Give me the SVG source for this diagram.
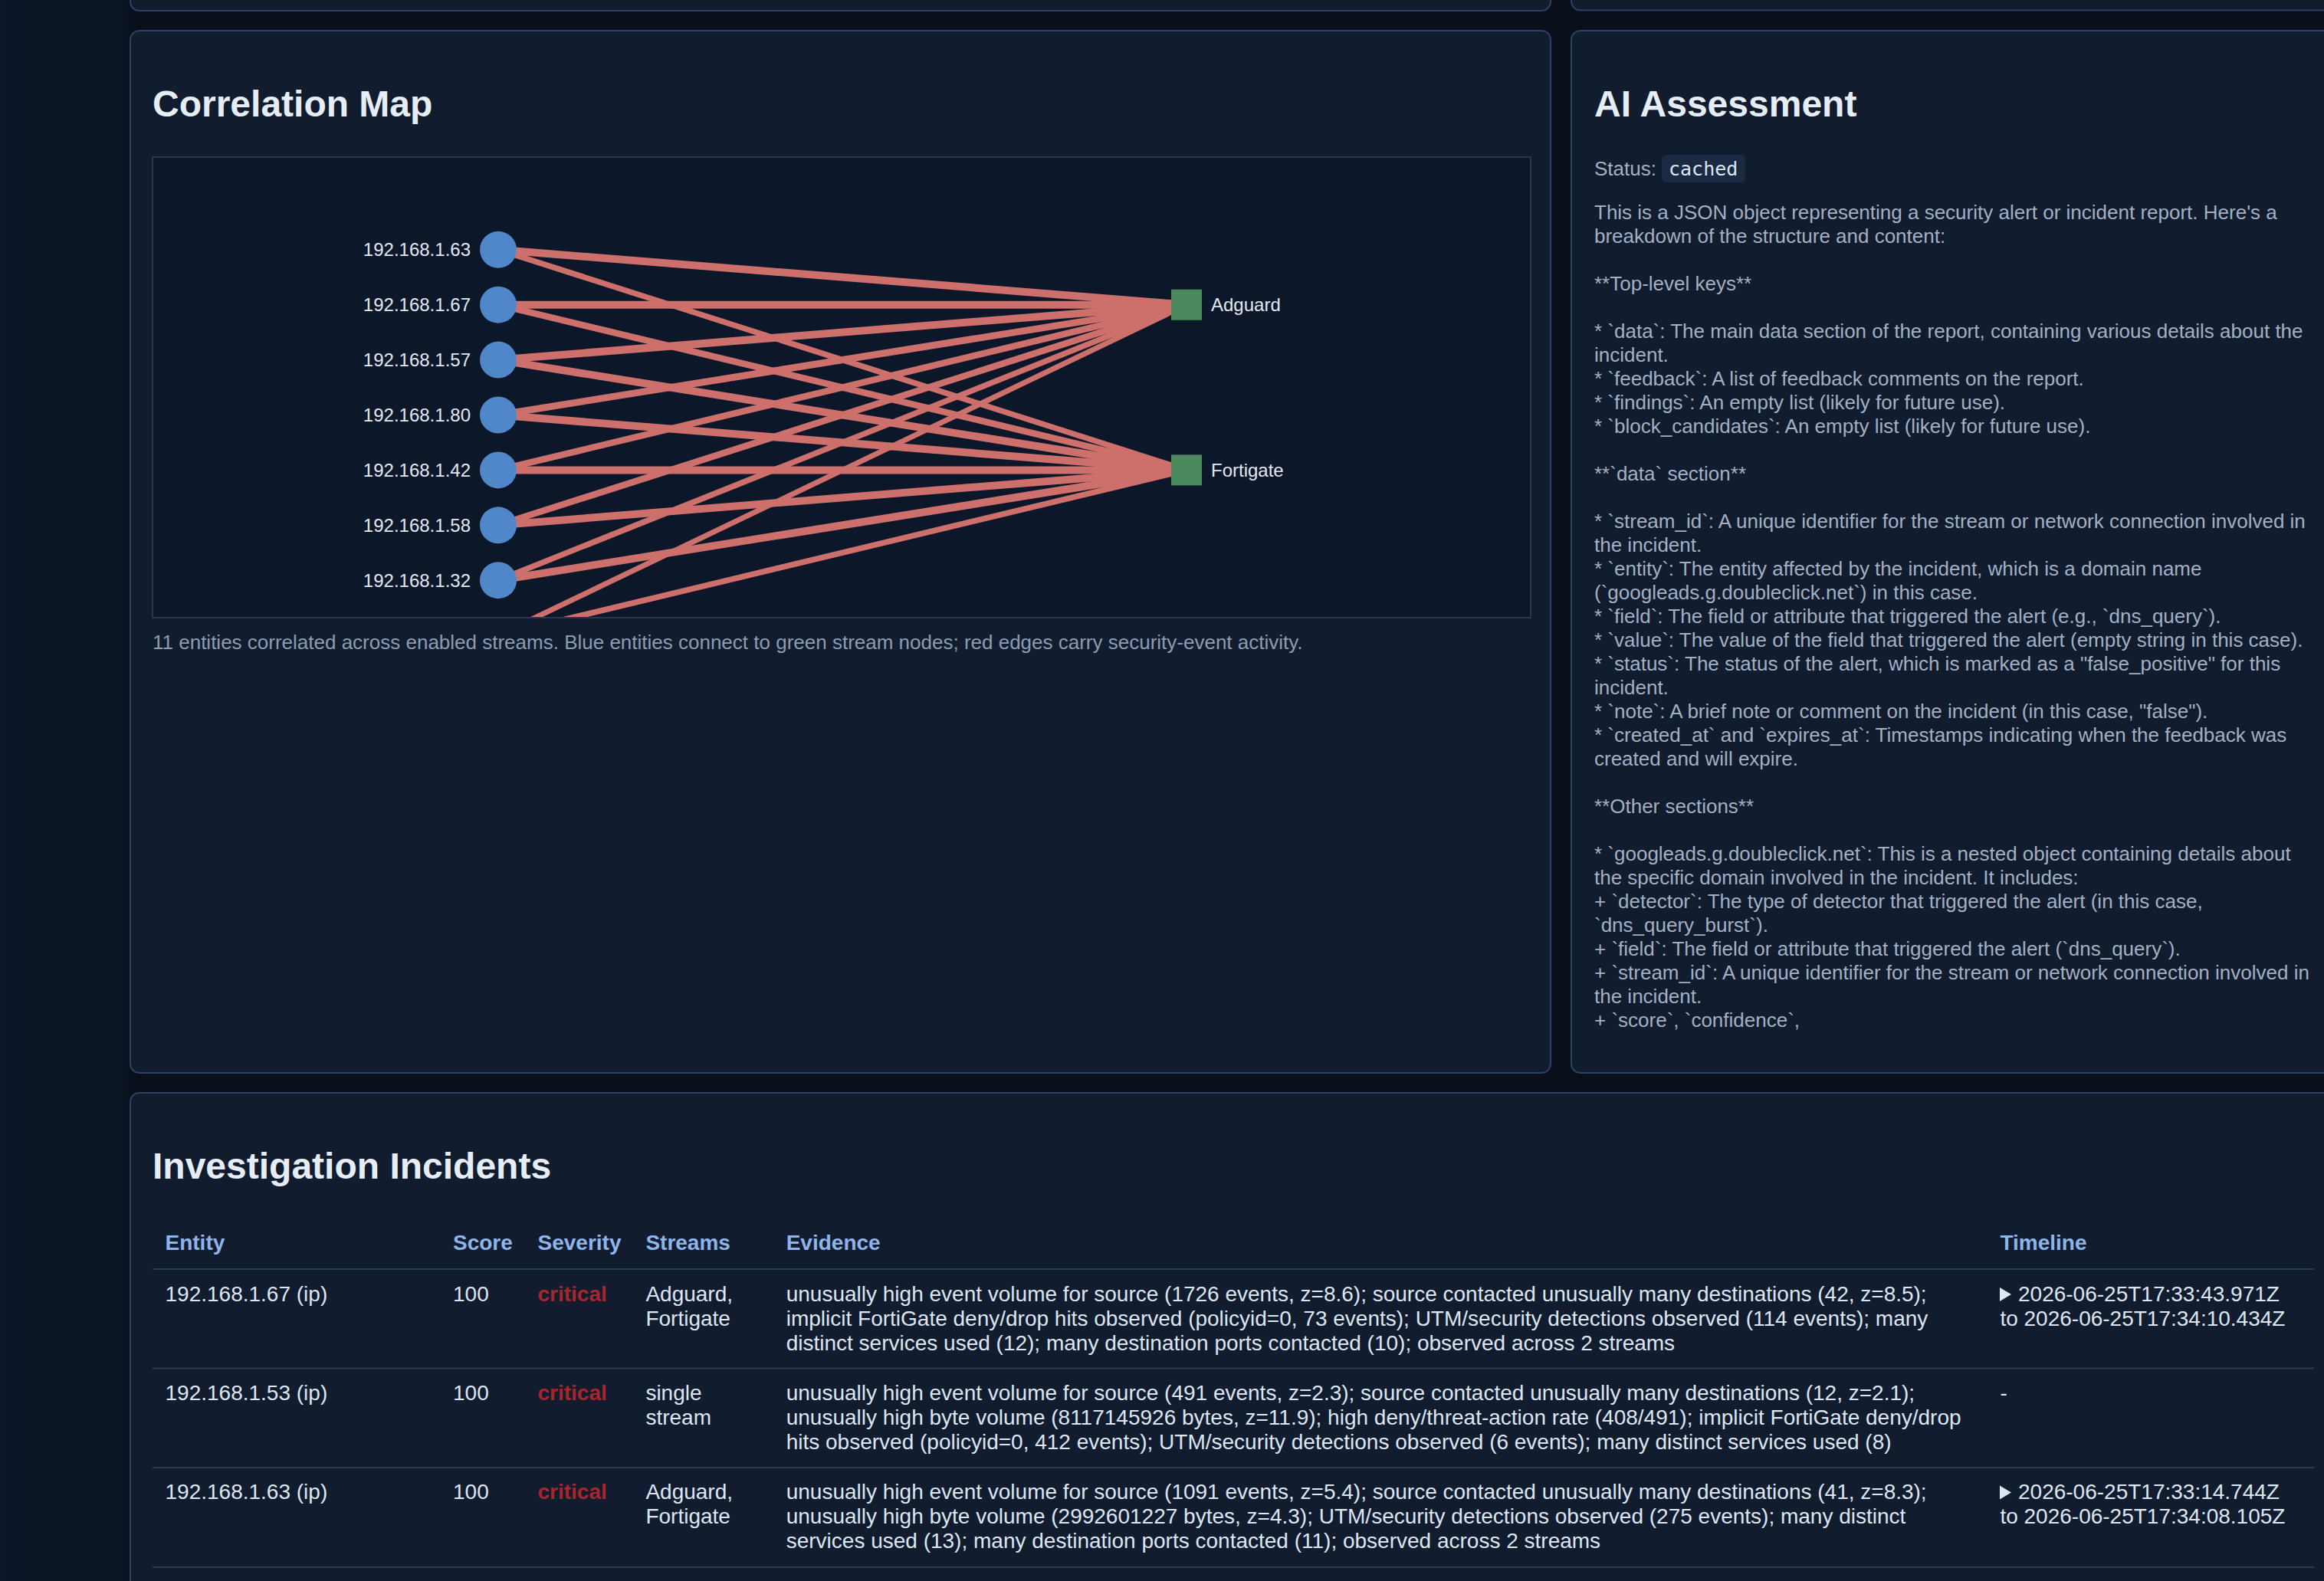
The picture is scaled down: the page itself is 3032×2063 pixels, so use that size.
<svg xmlns="http://www.w3.org/2000/svg" width="3032" height="2063" viewBox="0 0 3032 2063">
<defs>
<style>
.panel{fill:#111c2f;stroke:#2c4262;stroke-width:2}
.title{font-family:"Liberation Sans",Arial,sans-serif;font-size:48px;font-weight:700;fill:#e6edf7}
.lbl{font-family:"Liberation Sans",Arial,sans-serif;font-size:24px;fill:#e2e8f0}
.lblL{font-family:"Liberation Sans",Arial,sans-serif;font-size:24px;fill:#e2e8f0;text-anchor:end}
.cap{font-family:"Liberation Sans",Arial,sans-serif;font-size:26px;fill:#8d9cb2}
.ai{font-family:"Liberation Sans",Arial,sans-serif;font-size:26px;fill:#a3b0c3}
.th{font-family:"Liberation Sans",Arial,sans-serif;font-size:28px;font-weight:700;fill:#8fb4ea}
.td{font-family:"Liberation Sans",Arial,sans-serif;font-size:28px;fill:#dde6f2}
.crit{font-family:"Liberation Sans",Arial,sans-serif;font-size:28px;font-weight:700;fill:#a8262b}
.edge{stroke:#cd706c;stroke-linecap:butt;fill:none}
.ent{fill:#4f87c8}
.str{fill:#4a8a5c}
.rule{stroke:#2a3b55;stroke-width:2}
</style>
<linearGradient id="side" x1="0" y1="0" x2="1" y2="0">
<stop offset="0" stop-color="#0c1628"/>
<stop offset="1" stop-color="#0a1322"/>
</linearGradient>
<clipPath id="graphClip"><rect x="200" y="206" width="1796" height="599"/></clipPath>
</defs>

<rect x="0" y="0" width="3032" height="2063" fill="#09101c"/>
<rect x="0" y="0" width="168" height="2063" fill="url(#side)"/>

<!-- top panels (cut off) -->
<rect class="panel" x="170" y="-40" width="1853" height="54" rx="12"/>
<rect class="panel" x="2050" y="-40" width="1000" height="53.5" rx="12"/>

<!-- Correlation Map panel -->
<g id="correlation-panel">
<rect class="panel" x="170" y="40" width="1853" height="1360" rx="12"/>
<text class="title" x="199" y="152">Correlation Map</text>
<rect x="199" y="205" width="1798" height="601" fill="#0d172a" stroke="#27374f" stroke-width="2"/>
<text class="cap" x="199" y="847">11 entities correlated across enabled streams. Blue entities connect to green stream nodes; red edges carry security-event activity.</text>
</g>

<g id="connectors" clip-path="url(#graphClip)">
<line class="edge" x1="650" y1="325.8" x2="1548" y2="397.7" stroke-width="10"/>
<line class="edge" x1="650" y1="325.8" x2="1548" y2="613.4" stroke-width="7.5"/>
<line class="edge" x1="650" y1="397.7" x2="1548" y2="397.7" stroke-width="10"/>
<line class="edge" x1="650" y1="397.7" x2="1548" y2="613.4" stroke-width="8.5"/>
<line class="edge" x1="650" y1="469.6" x2="1548" y2="397.7" stroke-width="10"/>
<line class="edge" x1="650" y1="469.6" x2="1548" y2="613.4" stroke-width="10"/>
<line class="edge" x1="650" y1="541.5" x2="1548" y2="397.7" stroke-width="9"/>
<line class="edge" x1="650" y1="541.5" x2="1548" y2="613.4" stroke-width="10"/>
<line class="edge" x1="650" y1="613.4" x2="1548" y2="397.7" stroke-width="8.5"/>
<line class="edge" x1="650" y1="613.4" x2="1548" y2="613.4" stroke-width="10"/>
<line class="edge" x1="650" y1="685.3" x2="1548" y2="397.7" stroke-width="8.5"/>
<line class="edge" x1="650" y1="685.3" x2="1548" y2="613.4" stroke-width="10"/>
<line class="edge" x1="650" y1="757.2" x2="1548" y2="397.7" stroke-width="7.5"/>
<line class="edge" x1="650" y1="757.2" x2="1548" y2="613.4" stroke-width="10"/>
<line class="edge" x1="650" y1="829.1" x2="1548" y2="397.7" stroke-width="7"/>
<line class="edge" x1="650" y1="829.1" x2="1548" y2="613.4" stroke-width="7.5"/>
</g>

<g id="node-192-168-1-63"><circle class="ent" cx="650" cy="325.8" r="24"/><text class="lblL" x="614" y="334.3">192.168.1.63</text></g>
<g id="node-192-168-1-67"><circle class="ent" cx="650" cy="397.7" r="24"/><text class="lblL" x="614" y="406.2">192.168.1.67</text></g>
<g id="node-192-168-1-57"><circle class="ent" cx="650" cy="469.6" r="24"/><text class="lblL" x="614" y="478.1">192.168.1.57</text></g>
<g id="node-192-168-1-80"><circle class="ent" cx="650" cy="541.5" r="24"/><text class="lblL" x="614" y="550">192.168.1.80</text></g>
<g id="node-192-168-1-42"><circle class="ent" cx="650" cy="613.4" r="24"/><text class="lblL" x="614" y="621.9">192.168.1.42</text></g>
<g id="node-192-168-1-58"><circle class="ent" cx="650" cy="685.3" r="24"/><text class="lblL" x="614" y="693.8">192.168.1.58</text></g>
<g id="node-192-168-1-32"><circle class="ent" cx="650" cy="757.2" r="24"/><text class="lblL" x="614" y="765.7">192.168.1.32</text></g>
<g id="node-adguard"><rect class="str" x="1528" y="377.7" width="40" height="40"/><text class="lbl" x="1580" y="406.2">Adguard</text></g>
<g id="node-fortigate"><rect class="str" x="1528" y="593.4" width="40" height="40"/><text class="lbl" x="1580" y="621.9">Fortigate</text></g>

<!-- AI Assessment panel -->
<g id="ai-panel">
<rect class="panel" x="2050" y="40" width="1000" height="1360" rx="12"/>
<text class="title" x="2080" y="152">AI Assessment</text>
<text class="ai" x="2080" y="229">Status:</text>
<rect x="2168" y="202" width="109" height="36" rx="6" fill="#1b2a42"/>
<text x="2177" y="229" font-family="'DejaVu Sans Mono','Liberation Mono',monospace" font-size="25" fill="#dbe6f4">cached</text>
<text class="ai">
<tspan x="2080" y="285.5">This is a JSON object representing a security alert or incident report. Here's a</tspan>
<tspan x="2080" y="316.5">breakdown of the structure and content:</tspan>
<tspan x="2080" y="378.5">**Top-level keys**</tspan>
<tspan x="2080" y="440.5">* `data`: The main data section of the report, containing various details about the</tspan>
<tspan x="2080" y="471.5">incident.</tspan>
<tspan x="2080" y="502.5">* `feedback`: A list of feedback comments on the report.</tspan>
<tspan x="2080" y="533.5">* `findings`: An empty list (likely for future use).</tspan>
<tspan x="2080" y="564.5">* `block_candidates`: An empty list (likely for future use).</tspan>
<tspan x="2080" y="626.5">**`data` section**</tspan>
<tspan x="2080" y="688.5">* `stream_id`: A unique identifier for the stream or network connection involved in</tspan>
<tspan x="2080" y="719.5">the incident.</tspan>
<tspan x="2080" y="750.5">* `entity`: The entity affected by the incident, which is a domain name</tspan>
<tspan x="2080" y="781.5">(`googleads.g.doubleclick.net`) in this case.</tspan>
<tspan x="2080" y="812.5">* `field`: The field or attribute that triggered the alert (e.g., `dns_query`).</tspan>
<tspan x="2080" y="843.5">* `value`: The value of the field that triggered the alert (empty string in this case).</tspan>
<tspan x="2080" y="874.5">* `status`: The status of the alert, which is marked as a "false_positive" for this</tspan>
<tspan x="2080" y="905.5">incident.</tspan>
<tspan x="2080" y="936.5">* `note`: A brief note or comment on the incident (in this case, "false").</tspan>
<tspan x="2080" y="967.5">* `created_at` and `expires_at`: Timestamps indicating when the feedback was</tspan>
<tspan x="2080" y="998.5">created and will expire.</tspan>
<tspan x="2080" y="1060.5">**Other sections**</tspan>
<tspan x="2080" y="1122.5">* `googleads.g.doubleclick.net`: This is a nested object containing details about</tspan>
<tspan x="2080" y="1153.5">the specific domain involved in the incident. It includes:</tspan>
<tspan x="2080" y="1184.5">+ `detector`: The type of detector that triggered the alert (in this case,</tspan>
<tspan x="2080" y="1215.5">`dns_query_burst`).</tspan>
<tspan x="2080" y="1246.5">+ `field`: The field or attribute that triggered the alert (`dns_query`).</tspan>
<tspan x="2080" y="1277.5">+ `stream_id`: A unique identifier for the stream or network connection involved in</tspan>
<tspan x="2080" y="1308.5">the incident.</tspan>
<tspan x="2080" y="1339.5">+ `score`, `confidence`,</tspan>
</text>
</g>

<!-- Investigation Incidents panel -->
<g id="incidents-panel">
<rect class="panel" x="170" y="1426" width="2880" height="700" rx="12"/>
<text class="title" x="199" y="1538">Investigation Incidents</text>
<text class="th" x="215.5" y="1631">Entity</text>
<text class="th" x="591" y="1631">Score</text>
<text class="th" x="701.5" y="1631">Severity</text>
<text class="th" x="842.4" y="1631">Streams</text>
<text class="th" x="1025.7" y="1631">Evidence</text>
<text class="th" x="2609.4" y="1631">Timeline</text>
<line class="rule" x1="199" y1="1656" x2="3019" y2="1656"/>
<line class="rule" x1="199" y1="1785.5" x2="3019" y2="1785.5"/>
<line class="rule" x1="199" y1="1915" x2="3019" y2="1915"/>
<line class="rule" x1="199" y1="2045" x2="3019" y2="2045"/>

<g id="row-192-168-1-67">
<text class="td" x="215.5" y="1697.5">192.168.1.67 (ip)</text>
<text class="td" x="591" y="1697.5">100</text>
<text class="crit" x="701.5" y="1697.5">critical</text>
<text class="td"><tspan x="842.4" y="1697.5">Adguard,</tspan><tspan x="842.4" y="1729.7">Fortigate</tspan></text>
<text class="td"><tspan x="1025.7" y="1697.5">unusually high event volume for source (1726 events, z=8.6); source contacted unusually many destinations (42, z=8.5);</tspan><tspan x="1025.7" y="1729.7">implicit FortiGate deny/drop hits observed (policyid=0, 73 events); UTM/security detections observed (114 events); many</tspan><tspan x="1025.7" y="1761.9">distinct services used (12); many destination ports contacted (10); observed across 2 streams</tspan></text>
<polygon points="2609,1680 2624,1689 2609,1698" fill="#dde6f2"/>
<text class="td"><tspan x="2633" y="1697.5">2026-06-25T17:33:43.971Z</tspan><tspan x="2609.4" y="1729.7">to 2026-06-25T17:34:10.434Z</tspan></text>
</g>

<g id="row-192-168-1-53">
<text class="td" x="215.5" y="1826.5">192.168.1.53 (ip)</text>
<text class="td" x="591" y="1826.5">100</text>
<text class="crit" x="701.5" y="1826.5">critical</text>
<text class="td"><tspan x="842.4" y="1826.5">single</tspan><tspan x="842.4" y="1858.7">stream</tspan></text>
<text class="td"><tspan x="1025.7" y="1826.5">unusually high event volume for source (491 events, z=2.3); source contacted unusually many destinations (12, z=2.1);</tspan><tspan x="1025.7" y="1858.7">unusually high byte volume (8117145926 bytes, z=11.9); high deny/threat-action rate (408/491); implicit FortiGate deny/drop</tspan><tspan x="1025.7" y="1890.9">hits observed (policyid=0, 412 events); UTM/security detections observed (6 events); many distinct services used (8)</tspan></text>
<text class="td" x="2609.4" y="1826.5">-</text>
</g>

<g id="row-192-168-1-63">
<text class="td" x="215.5" y="1956">192.168.1.63 (ip)</text>
<text class="td" x="591" y="1956">100</text>
<text class="crit" x="701.5" y="1956">critical</text>
<text class="td"><tspan x="842.4" y="1956">Adguard,</tspan><tspan x="842.4" y="1988.2">Fortigate</tspan></text>
<text class="td"><tspan x="1025.7" y="1956">unusually high event volume for source (1091 events, z=5.4); source contacted unusually many destinations (41, z=8.3);</tspan><tspan x="1025.7" y="1988.2">unusually high byte volume (2992601227 bytes, z=4.3); UTM/security detections observed (275 events); many distinct</tspan><tspan x="1025.7" y="2020.4">services used (13); many destination ports contacted (11); observed across 2 streams</tspan></text>
<polygon points="2609,1938.5 2624,1947.5 2609,1956.5" fill="#dde6f2"/>
<text class="td"><tspan x="2633" y="1956">2026-06-25T17:33:14.744Z</tspan><tspan x="2609.4" y="1988.2">to 2026-06-25T17:34:08.105Z</tspan></text>
</g>
</g>
</svg>
